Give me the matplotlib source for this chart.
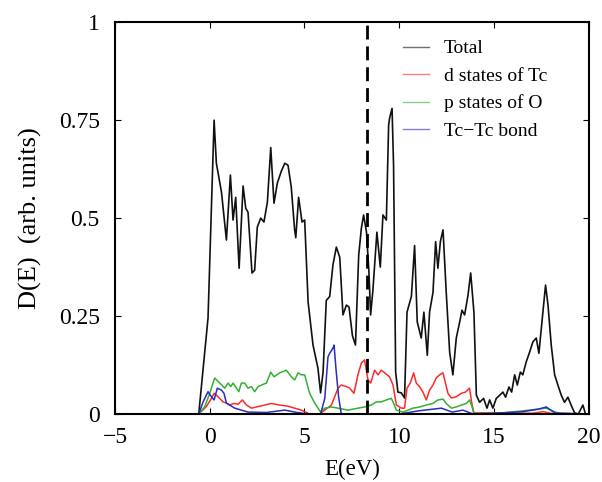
import matplotlib
matplotlib.use("Agg")
import matplotlib.pyplot as plt

# energies (eV) and densities
total_e = [-5, -0.58, -0.09, 0.23, 0.35, 0.62, 0.88, 1.09, 1.23, 1.37, 1.55, 1.76, 1.90, 2.02,
           2.23, 2.37, 2.51, 2.69, 2.86, 3.04, 3.22, 3.39, 3.57, 3.78, 3.96, 4.13, 4.30, 4.48,
           4.54, 4.69, 4.87, 5.01, 5.19, 5.45, 5.71, 5.85, 5.98, 6.15, 6.33, 6.50, 6.68, 6.86,
           7.03, 7.21, 7.35, 7.53, 7.69, 7.86, 8.00, 8.12, 8.27, 8.40, 8.49, 8.61, 8.82, 9.00,
           9.14, 9.32, 9.44, 9.49, 9.62, 9.70, 9.81, 9.93, 10.11, 10.28, 10.41, 10.64, 10.81,
           10.95, 11.16, 11.30, 11.48, 11.60, 11.78, 11.92, 12.04, 12.17, 12.31, 12.48, 12.66,
           12.83, 13.01, 13.19, 13.31, 13.45, 13.63, 13.77, 13.94, 14.07, 14.24, 14.45, 14.63,
           14.77, 14.94, 15.12, 15.30, 15.47, 15.61, 15.79, 15.93, 16.09, 16.23, 16.39, 16.52,
           16.70, 16.88, 17.05, 17.23, 17.37, 17.55, 17.72, 17.85, 18.02, 18.20, 18.37, 18.55,
           18.72, 18.90, 19.07, 19.25, 19.45, 19.69, 19.83, 20.0]
total_d = [0, 0, 0.245, 0.75, 0.64, 0.566, 0.444, 0.61, 0.495, 0.553, 0.372, 0.582, 0.525, 0.515,
           0.36, 0.367, 0.477, 0.50, 0.49, 0.54, 0.68, 0.538, 0.59, 0.62, 0.64, 0.635, 0.58, 0.47,
           0.45, 0.553, 0.49, 0.495, 0.286, 0.176, 0.117, 0.054, 0.107, 0.29, 0.30, 0.38, 0.426, 0.40,
           0.253, 0.278, 0.273, 0.20, 0.176, 0.405, 0.474, 0.508, 0.465, 0.362, 0.253, 0.316, 0.464, 0.375,
           0.508, 0.495, 0.737, 0.755, 0.78, 0.635, 0.107, 0.056, 0.054, 0.041, 0.26, 0.30, 0.43,
           0.235, 0.194, 0.26, 0.15, 0.26, 0.31, 0.44, 0.372, 0.44, 0.47, 0.31, 0.158,
           0.10, 0.194, 0.235, 0.265, 0.253, 0.304, 0.36, 0.26, 0.048, 0.03, 0.04, 0.015,
           0.036, 0.015, 0.04, 0.048, 0.056, 0.043, 0.069, 0.056, 0.10, 0.074, 0.107, 0.10,
           0.133, 0.158, 0.184, 0.194, 0.155, 0.245, 0.329, 0.278, 0.176, 0.10, 0.074, 0.048,
           0.03, 0.043, 0.023, 0.003, 0.0, 0.023, 0.0, 0.0]

tc_d_e = [-5, -0.58, -0.18, 0.09, 0.23, 0.44, 0.70, 0.88, 1.05, 1.28, 1.50, 1.72, 1.94, 2.20,
          2.55, 2.90, 3.25, 3.69, 4.13, 4.48, 4.84, 5.27, 5.80, 6.07, 6.42, 6.77, 6.94, 7.21,
          7.38, 7.61, 7.82, 8.00, 8.17, 8.35, 8.49, 8.70, 8.88, 9.05, 9.23, 9.49, 9.67, 9.85,
          10.11, 10.28, 10.41, 10.58, 10.76, 10.90, 11.08, 11.25, 11.43, 11.60, 11.78, 11.95,
          12.13, 12.31, 12.40, 12.57, 12.75, 13.01, 13.28, 13.50, 13.71, 13.80, 13.92, 17.0,
          17.6, 18.2, 20.0]
tc_d = [0, 0, 0.019, 0.04, 0.053, 0.044, 0.031, 0.028, 0.023, 0.027, 0.025, 0.036, 0.023, 0.015,
        0.019, 0.023, 0.027, 0.023, 0.02, 0.015, 0.01, 0.0, 0.0, 0.01, 0.023, 0.066, 0.074, 0.07,
        0.066, 0.053, 0.10, 0.13, 0.138, 0.087, 0.079, 0.112, 0.10, 0.112, 0.105, 0.095, 0.074, 0.023,
        0.015, 0.015, 0.066, 0.079, 0.105, 0.079, 0.069, 0.056, 0.036, 0.061, 0.074, 0.092,
        0.10, 0.105, 0.087, 0.053, 0.041, 0.044, 0.053, 0.056, 0.066, 0.036, 0.003, 0.002,
        0.006, 0.0, 0.0]

o_p_e = [-5, -0.58, -0.26, 0.0, 0.26, 0.53, 0.79, 0.97, 1.11, 1.23, 1.41, 1.53, 1.67, 1.85,
         2.02, 2.20, 2.37, 2.55, 2.73, 2.99, 3.22, 3.39, 3.69, 4.04, 4.31, 4.48, 4.66, 4.84,
         5.01, 5.27, 5.54, 5.85, 6.07, 6.42, 6.77, 7.30, 7.82, 8.17, 8.53, 8.79, 9.05, 9.32,
         9.58, 9.67, 9.85, 10.20, 10.46, 10.72, 11.08, 11.43, 11.78, 12.04, 12.31, 12.48,
         12.75, 13.01, 13.28, 13.54, 13.71, 13.85, 13.97, 15.5, 16.5, 17.2, 17.76, 18.0,
         18.5, 20.0]
o_p = [0, 0, 0.019, 0.053, 0.092, 0.079, 0.066, 0.079, 0.07, 0.079, 0.066, 0.057, 0.079, 0.079,
       0.066, 0.07, 0.057, 0.07, 0.074, 0.079, 0.107, 0.095, 0.105, 0.112, 0.095, 0.087, 0.105, 0.10,
       0.10, 0.053, 0.028, 0.005, 0.015, 0.018, 0.015, 0.01, 0.015, 0.018, 0.023, 0.031, 0.031, 0.036,
       0.04, 0.031, 0.01, 0.005, 0.01, 0.015, 0.018, 0.023, 0.027, 0.036, 0.038, 0.027,
       0.015, 0.018, 0.023, 0.027, 0.036, 0.018, 0.0, 0.003, 0.008, 0.012, 0.015, 0.01,
       0.0, 0.0]

bond_e = [-5, -0.58, -0.35, -0.09, 0.09, 0.23, 0.40, 0.62, 0.75, 0.88, 1.05, 1.32, 1.67, 2.02,
          3.0, 3.96, 4.6, 5.2, 5.85, 6.07, 6.24, 6.33, 6.50, 6.56, 6.68, 6.80, 6.94, 10.0,
          11.0, 12.22, 12.8, 13.36, 13.9, 15.0, 16.5, 17.3, 17.76, 18.2, 20.0]
bond = [0, 0, 0.031, 0.057, 0.044, 0.036, 0.066, 0.061, 0.053, 0.028, 0.023, 0.015, 0.01, 0.005,
        0.004, 0.01, 0.004, 0.0, 0.0, 0.04, 0.146, 0.155, 0.168, 0.176, 0.105, 0.044, 0.0, 0.0,
        0.008, 0.015, 0.005, 0.01, 0.0, 0.002, 0.006, 0.012, 0.018, 0.003, 0.0]

fermi = 8.28
x_ticks = [-5, 0, 5, 10, 15, 20]
x_labels = ["\u22125", "0", "5", "10", "15", "20"]
y_ticks = [0, 0.25, 0.5, 0.75, 1]
y_labels = ["0", "0.25", "0.5", "0.75", "1"]

plt.rcParams["font.family"] = ["Liberation Serif", "DejaVu Serif"]

fig = plt.figure(figsize=(6.02, 4.82), dpi=100)
ax = fig.add_axes([0.191, 0.141, 0.787, 0.813])

ax.plot(total_e, total_d, color="#111111", lw=1.2, label="Total")
ax.plot(tc_d_e, tc_d, color="#ff2a2a", lw=1.1, label="d states of Tc")
ax.plot(o_p_e, o_p, color="#33b033", lw=1.1, label="p states of O")
ax.plot(bond_e, bond, color="#2b2bc0", lw=1.1, label="Tc\u2212Tc bond")
ax.axvline(fermi, color="black", lw=2.0, ls=(0, (5, 2.5)))

ax.set_xlim(-5, 20)
ax.set_ylim(0, 1)
ax.set_xticks(x_ticks)
ax.set_xticklabels(x_labels)
ax.set_yticks(y_ticks)
ax.set_yticklabels(y_labels)
ax.tick_params(direction="in", top=True, right=True, length=4, width=0.8, labelsize=17)
ax.tick_params(axis="x", pad=9)
ax.tick_params(axis="y", pad=11)
for s in ax.spines.values():
    s.set_linewidth(1.5)

ax.set_xlabel("E(eV)", fontsize=16.5, labelpad=8)
ax.set_ylabel("D(E)  (arb. units)", fontsize=19, labelpad=12)

leg = ax.legend(loc="upper right", bbox_to_anchor=(0.912, 0.955), frameon=False,
                borderaxespad=0, borderpad=0, fontsize=14, handlelength=1.35,
                handletextpad=0.75, labelspacing=0.5)
for h in leg.get_lines():
    h.set_alpha(0.6)
    h.set_linewidth(1.0)

fig.savefig("out.png", dpi=100)
